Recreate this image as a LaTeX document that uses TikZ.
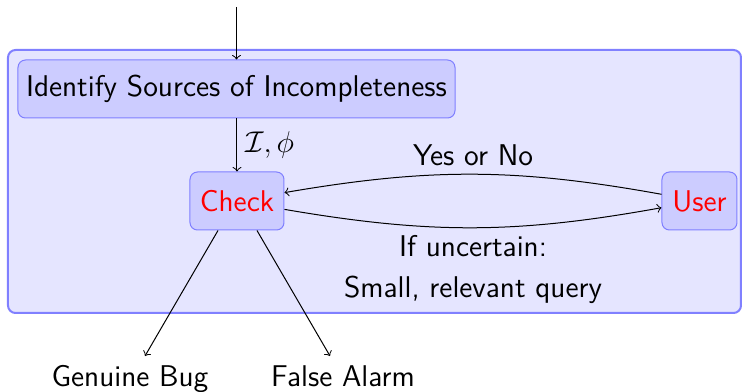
\documentclass[tikz,border=0pt]{standalone}
\usetikzlibrary{calc}
\begin{document}
\begin{tikzpicture}[x=0.4pt,y=-0.4pt,
  every node/.style={font=\sffamily\fontsize{12}{16.4}\selectfont},
  box/.style={draw=blue!50,fill=blue!20,rounded corners=3pt,line width=0.4pt,minimum height=23.2pt,inner sep=0pt},
  arr/.style={->,line width=0.4pt},
  outcome/.style={anchor=base}]
\useasboundingbox (0,0) rectangle (743,392);
\draw[draw=blue!50,fill=blue!10,line width=0.8pt,rounded corners=3pt] (8,50) rectangle (741,313);
\node[box,minimum width=174.8pt] (ident) at (236.5,89) {Identify Sources of Incompleteness};
\node[box,minimum width=37.6pt,text=red] (check) at (237,201) {Check};
\node[box,minimum width=30pt,text=red] (user) at (699.5,201) {User};
\coordinate (top) at (236.5,7);
\coordinate (bugtip) at (145,356);
\coordinate (alarmtip) at (330,356);
\node[outcome] (bug) at (130,387) {Genuine Bug};
\node[outcome] (alarm) at (343,387) {False Alarm};
\draw[arr] (top) -- (ident.north);
\draw[arr] (ident.south -| check.north) -- node[right,inner sep=3pt] {$\mathcal{I},\phi$} (check.north);
\draw[arr] (user.170) to[bend right=10] node[above,inner sep=3pt] {Yes or No} (check.10);
\draw[arr] (check.-10) to[bend right=10] node[below,align=center,inner sep=3pt] {If uncertain:\\Small, relevant query} (user.190);
\draw[arr] ($(check.south)+(-19,0)$) -- (bugtip);
\draw[arr] ($(check.south)+(20,0)$) -- (alarmtip);
\end{tikzpicture}
\end{document}
